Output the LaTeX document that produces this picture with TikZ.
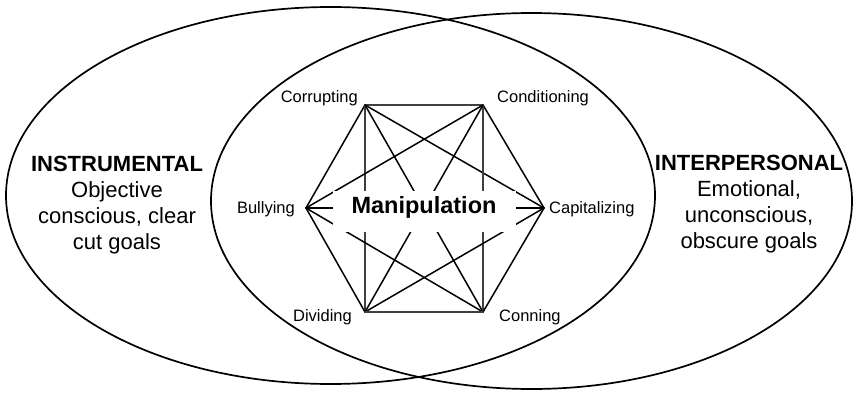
\documentclass[tikz,border=0pt]{standalone}
\usepackage{fontspec}
\setmainfont{Liberation Sans}
\begin{document}
\begin{tikzpicture}[x=1pt, y=-1pt, line join=round, line cap=round,
  ring/.style={line width=1.7pt},
  link/.style={line width=1.5pt},
  axial/.style={line width=1.3pt, black!75},
  tactic/.style={font=\fontsize{16.5}{19}\selectfont, inner sep=0pt},
  goal/.style={align=center, font=\fontsize{22}{26}\selectfont, inner sep=0pt}]
\useasboundingbox (0,0) rectangle (854,393);
% the two sets
\draw[ring] (330.5,195.5) ellipse [x radius=324.5, y radius=188.5];
\draw[ring] (531.5,201) ellipse [x radius=320.5, y radius=188];
\node[goal] (instr) at (117,205) {\textbf{INSTRUMENTAL}\\Objective\\conscious, clear\\cut goals};
\node[goal] (inter) at (749,204) {\textbf{INTERPERSONAL}\\Emotional,\\unconscious,\\obscure goals};
% the six tactics
\coordinate (cor) at (365,105);
\coordinate (cnd) at (483,105);
\coordinate (bul) at (306,208);
\coordinate (cap) at (544,208);
\coordinate (div) at (365,312);
\coordinate (con) at (483,312);
\draw[axial] (cor) -- (cnd);
\draw[link] (cor) -- (bul);
\draw[axial] (cor) -- (div);
\draw[link] (cor) -- (cap);
\draw[link] (cor) -- (con);
\draw[link] (cnd) -- (bul);
\draw[link] (cnd) -- (cap);
\draw[axial] (cnd) -- (con);
\draw[link] (cnd) -- (div);
\draw[link] (bul) -- (cap);
\draw[link] (bul) -- (div);
\draw[link] (bul) -- (con);
\draw[link] (cap) -- (div);
\draw[link] (cap) -- (con);
\draw[axial] (div) -- (con);
\node[fill=white, anchor=base, font=\fontsize{23.5}{26}\selectfont\bfseries,
  minimum width=183pt, inner xsep=0pt, inner ysep=4pt, text height=18pt, text depth=15pt]
  (manip) at (424,213) {Manipulation};
\node[tactic, anchor=base east] (lcor) at (358,103) {Corrupting};
\node[tactic, anchor=base west] (lcnd) at (497,103) {Conditioning};
\node[tactic, anchor=base east] (lbul) at (295,213) {Bullying};
\node[tactic, anchor=base west] (lcap) at (549,213) {Capitalizing};
\node[tactic, anchor=base east] (ldiv) at (352,321) {Dividing};
\node[tactic, anchor=base west] (lcon) at (499,321) {Conning};
\end{tikzpicture}
\end{document}
